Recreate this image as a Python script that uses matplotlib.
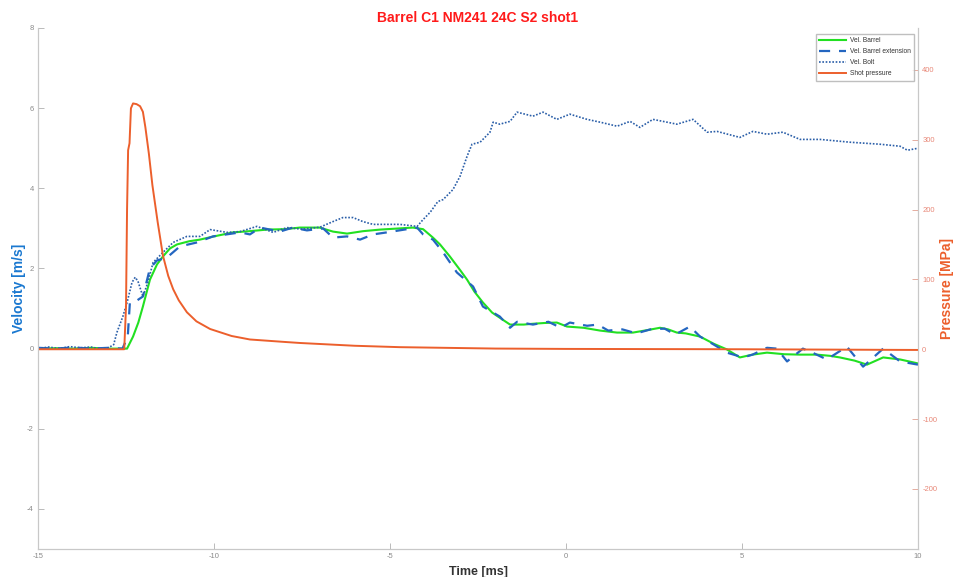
import matplotlib
matplotlib.use("Agg")
import matplotlib.pyplot as plt

plt.rcParams["axes.unicode_minus"] = False
plt.rcParams["font.family"] = ["Liberation Sans", "DejaVu Sans"]

# ─── Data ────────────────────────────────────────────────────────────────────

title = "Barrel C1 NM241 24C S2 shot1"

t_barrel = [-15, -14.5, -14, -13.5, -13, -12.47, -12.3, -12.15, -12.02, -11.82,
            -11.62, -11.45, -11.25, -11.05, -10.7, -10.4, -10.0, -9.46, -9.0, -8.49,
            -8.0, -7.56, -7.0, -6.62, -6.22, -5.77, -5.28, -4.72, -4.35, -4.06,
            -3.78, -3.58, -3.30, -3.0, -2.81, -2.6, -2.36, -2.1, -1.88, -1.59,
            -1.2, -0.94, -0.6, -0.26, 0.03, 0.5, 0.97, 1.45, 1.9, 2.3,
            2.67, 2.9, 3.15, 3.4, 3.81, 4.2, 4.57, 4.94, 5.3, 5.71,
            6.2, 6.65, 7.13, 7.5, 7.78, 8.2, 8.55, 9.01, 9.49, 10.0]
v_barrel = [0.0, 0.01, 0.0, 0.02, 0.0, 0.0, 0.3, 0.65, 1.05, 1.72,
            2.1, 2.3, 2.5, 2.6, 2.68, 2.72, 2.8, 2.9, 2.93, 2.97,
            2.98, 3.02, 3.02, 2.92, 2.87, 2.93, 2.97, 3.0, 3.02, 2.98,
            2.77, 2.6, 2.3, 1.95, 1.72, 1.42, 1.15, 0.9, 0.77, 0.6,
            0.6, 0.62, 0.64, 0.65, 0.55, 0.52, 0.45, 0.4, 0.4, 0.46,
            0.52, 0.48, 0.4, 0.38, 0.3, 0.12, -0.02, -0.22, -0.15, -0.1,
            -0.14, -0.15, -0.15, -0.18, -0.22, -0.3, -0.4, -0.22, -0.27, -0.37]

t_ext = [-15, -14.5, -14, -13.5, -13, -12.6, -12.45, -12.39, -12.19, -12.02,
         -11.82, -11.62, -11.34, -10.97, -10.48, -10.03, -9.26, -8.98, -8.69, -8.13,
         -7.76, -7.36, -6.9, -6.62, -6.22, -5.85, -5.48, -5.09, -4.52, -4.23,
         -4.06, -3.78, -3.49, -3.10, -2.64, -2.36, -1.88, -1.59, -1.39, -0.94,
         -0.5, -0.15, 0.11, 0.6, 0.9, 1.2, 1.6, 2.0, 2.4, 2.8,
         3.1, 3.52, 3.81, 4.2, 4.57, 5.03, 5.3, 5.71, 5.99, 6.28,
         6.73, 7.0, 7.41, 7.98, 8.44, 9.01, 9.49, 10.0]
v_ext = [0.02, 0.0, 0.03, 0.0, 0.02, 0.0, 0.3, 1.15, 1.2, 1.3,
         2.0, 2.2, 2.27, 2.55, 2.65, 2.8, 2.9, 2.85, 3.02, 2.92,
         3.02, 2.95, 3.0, 2.77, 2.8, 2.72, 2.85, 2.9, 2.98, 3.02,
         2.85, 2.72, 2.4, 1.9, 1.55, 1.05, 0.8, 0.52, 0.67, 0.6,
         0.67, 0.52, 0.65, 0.57, 0.6, 0.45, 0.48, 0.38, 0.48, 0.5,
         0.35, 0.55, 0.3, 0.1, -0.1, -0.22, -0.15, 0.02, 0.0, -0.32,
         0.0, -0.1, -0.27, 0.05, -0.45, 0.0, -0.32, -0.4]

t_bolt = [-15, -14.7, -14.4, -14.1, -13.8, -13.5, -13.24, -13.0, -12.85, -12.76,
          -12.59, -12.47, -12.33, -12.24, -12.16, -12.02, -11.88, -11.73, -11.45, -11.16,
          -10.77, -10.4, -10.11, -9.63, -9.26, -8.78, -8.32, -7.93, -7.5, -6.99,
          -6.62, -6.34, -6.05, -5.77, -5.48, -5.09, -4.72, -4.23, -4.06, -3.86,
          -3.64, -3.49, -3.21, -3.01, -2.81, -2.67, -2.44, -2.16, -2.07, -1.88,
          -1.59, -1.39, -0.94, -0.65, -0.26, 0.11, 0.6, 0.97, 1.45, 1.82,
          2.1, 2.47, 2.87, 3.15, 3.61, 4.01, 4.29, 4.94, 5.31, 5.71,
          6.16, 6.65, 7.22, 8.07, 8.92, 9.49, 9.7, 10.0]
v_bolt = [0.0, 0.04, 0.0, 0.05, 0.02, 0.04, -0.01, 0.02, 0.1, 0.4,
          0.8, 1.15, 1.65, 1.78, 1.68, 1.3, 1.65, 2.15, 2.4, 2.65,
          2.8, 2.8, 2.97, 2.9, 2.92, 3.05, 2.9, 3.02, 2.98, 3.03,
          3.17, 3.27, 3.27, 3.17, 3.1, 3.1, 3.1, 3.05, 3.22, 3.4,
          3.67, 3.72, 3.97, 4.3, 4.8, 5.1, 5.15, 5.4, 5.65, 5.6,
          5.67, 5.9, 5.8, 5.9, 5.72, 5.85, 5.72, 5.65, 5.55, 5.67,
          5.52, 5.72, 5.65, 5.6, 5.72, 5.4, 5.42, 5.27, 5.42, 5.35,
          5.4, 5.22, 5.22, 5.15, 5.1, 5.05, 4.95, 5.0]

t_press = [-15, -12.55, -12.5, -12.47, -12.44, -12.40, -12.36, -12.3, -12.2, -12.1,
           -12.02, -11.95, -11.85, -11.75, -11.6, -11.45, -11.3, -11.16, -11.0, -10.77,
           -10.5, -10.11, -9.5, -8.98, -8.0, -7.56, -6.0, -4.72, -2.0, 0.0,
           5.0, 10.0]
p_press = [0, 0, 60, 200, 285, 295, 345, 352, 351, 348,
           340, 318, 280, 235, 182, 134, 105, 86, 70, 53,
           40, 29, 19, 14, 10.5, 9, 5, 3, 1, 0.5,
           0, -1]

vel_ticks = [-4, -2, 0, 2, 4, 6, 8]
press_ticks = [-200, -100, 0, 100, 200, 300, 400]
time_ticks = [-15, -10, -5, 0, 5, 10]

# ─── Plot ────────────────────────────────────────────────────────────────────

fig = plt.figure(figsize=(9.55, 5.77), dpi=100)
ax = fig.add_axes([38 / 955, 1 - 549 / 577, 880 / 955, 521 / 577])
ax2 = ax.twinx()

h1, = ax.plot(t_barrel, v_barrel, color="#22e022", lw=1.5, label="Vel. Barrel")
h2, = ax.plot(t_ext, v_ext, color="#2466c0", lw=1.6, dashes=(5, 4),
              label="Vel. Barrel extension")
h3, = ax.plot(t_bolt, v_bolt, color="#2a5ea8", lw=1.2, linestyle=(0, (1, 1)),
              label="Vel. Bolt")
h4, = ax2.plot(t_press, p_press, color="#ec5f2c", lw=1.4, label="Shot pressure")

ax.set_xlim(-15, 10)
ax.set_ylim(-5, 8)
ax2.set_ylim(-286, 460)
ax.set_xticks(time_ticks)
ax.set_yticks(vel_ticks)
ax2.set_yticks(press_ticks)

for a in (ax, ax2):
    for side in ("left", "right", "bottom"):
        a.spines[side].set_color("#c8c8c8")
        a.spines[side].set_linewidth(0.8)
    a.spines["top"].set_visible(False)
    a.patch.set_visible(False)

ax.tick_params(axis="both", direction="in", length=4, width=0.6, color="#b0b0b0",
               labelsize=5.5, labelcolor="#8a8a8a", pad=3)
ax2.tick_params(axis="y", direction="in", length=4, width=0.6, color="#e0a090",
                labelsize=5.5, labelcolor="#e88878", pad=3)

ax.set_xlabel("Time [ms]", fontsize=9, fontweight="bold", color="#333333", labelpad=4)
ax.set_ylabel("Velocity [m/s]", fontsize=10, fontweight="bold", color="#1a78d0", labelpad=1)
ax2.set_ylabel("Pressure [MPa]", fontsize=10, fontweight="bold", color="#ec5f2c", labelpad=2)
ax.set_title(title, fontsize=10, fontweight="bold", color="#ff1a1a", pad=4)

leg = ax2.legend(handles=[h1, h2, h3, h4], loc="upper right", fontsize=4.8,
                 frameon=True, fancybox=False, edgecolor="#b0b0b0",
                 handlelength=4, handletextpad=0.6, borderpad=0.5, labelspacing=0.6,
                 bbox_to_anchor=(0.999, 0.995))
for txt in leg.get_texts():
    txt.set_color("#333333")

fig.savefig("out.png", dpi=100)
